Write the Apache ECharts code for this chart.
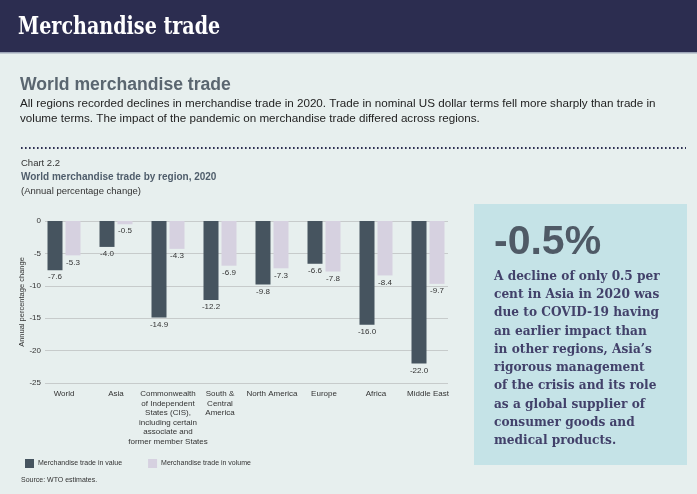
<!DOCTYPE html>
<html>
<head>
<meta charset="utf-8">
<script src="https://cdn.jsdelivr.net/npm/echarts@6/dist/echarts.min.js"></script>
<style>
html,body{margin:0;padding:0;background:#e7efee;}
#c{width:697px;height:494px;}
</style>
</head>
<body>
<div id="c"></div>
<script>
const categories = ['World', 'Asia', 'Commonwealth\nof Independent\nStates (CIS),\nincluding certain\nassociate and\nformer member States', 'South &\nCentral\nAmerica', 'North America', 'Europe', 'Africa', 'Middle East'];
const valueSeries = [-7.6, -4.0, -14.9, -12.2, -9.8, -6.6, -16.0, -22.0];
const volumeSeries = [-5.3, -0.5, -4.3, -6.9, -7.3, -7.8, -8.4, -9.7];
const seriesNames = ['Merchandise trade in value', 'Merchandise trade in volume'];
const yMin = -25, yMax = 0, yStep = 5;

const sideLines = ['A decline of only 0.5 per', 'cent in Asia in 2020 was', 'due to COVID-19 having', 'an earlier impact than', 'in other regions, Asia\u2019s', 'rigorous management', 'of the crisis and its role', 'as a global supplier of', 'consumer goods and', 'medical products.'];

const chart = echarts.init(document.getElementById('c'), null, {renderer: 'canvas'});
const sans = 'Liberation Sans, Arial, sans-serif';
const slab = 'DejaVu Serif Condensed, DejaVu Serif, serif';
const labelStyle = {show: true, position: 'bottom', distance: 3, fontSize: 8, color: '#333', fontFamily: sans, formatter: p => p.value.toFixed(1)};

const option = {
  backgroundColor: '#e7efee',
  animation: false,
  legend: {
    left: 20, top: 454, itemWidth: 9, itemHeight: 9, itemGap: 26,
    icon: 'rect',
    textStyle: {fontSize: 7, color: '#333', fontFamily: sans, padding: [0,0,0,-1]},
    data: seriesNames
  },
  grid: [
    {left: 38, width: 416, top: 221, height: 162},
    {left: 45, width: 403, top: 221, height: 162}
  ],
  xAxis: [
    {type: 'category', gridIndex: 0, data: categories, axisLine: {show: false}, axisTick: {show: false},
     axisLabel: {interval: 0, fontSize: 8, color: '#333', fontFamily: sans, lineHeight: 9.6, margin: 6}},
    {type: 'value', gridIndex: 1, show: false}
  ],
  yAxis: [
    {type: 'value', gridIndex: 0, min: yMin, max: yMax, interval: yStep, show: false},
    {type: 'value', gridIndex: 1, min: yMin, max: yMax, interval: yStep,
     axisLine: {show: false}, axisTick: {show: false},
     axisLabel: {fontSize: 8, color: '#333', fontFamily: sans, margin: 4},
     splitLine: {lineStyle: {color: '#c7cbcb', width: 1}},
     name: 'Annual percentage change', nameLocation: 'middle', nameGap: 19, nameRotate: 90, nameMoveOverlap: false,
     nameTextStyle: {fontSize: 7.5, color: '#333', fontFamily: sans}}
  ],
  series: [
    {name: seriesNames[0], type: 'bar', xAxisIndex: 0, yAxisIndex: 0, data: valueSeries, barWidth: 15, barGap: '20%',
     itemStyle: {color: '#46545f'}, label: labelStyle},
    {name: seriesNames[1], type: 'bar', xAxisIndex: 0, yAxisIndex: 0, data: volumeSeries, barWidth: 15, barGap: '20%',
     itemStyle: {color: '#d6d1e0'}, label: labelStyle}
  ],
  graphic: [
    {type: 'rect', left: 0, top: 0, shape: {width: 697, height: 52}, style: {fill: '#2c2d50'}, z: -1},
    {type: 'rect', left: 0, top: 52, shape: {width: 697, height: 1.5}, style: {fill: '#9ea6b8'}, z: -1},
    {type: 'text', x: 18, y: 15, scaleX: 0.85, style: {text: 'Merchandise trade', fill: '#ffffff', font: 'bold 25px ' + slab}},
    {type: 'text', left: 20, top: 76, style: {text: 'World merchandise trade', fill: '#5a6670', font: 'bold 17.6px ' + sans}},
    {type: 'text', left: 20, top: 96, style: {text: 'All regions recorded declines in merchandise trade in 2020. Trade in nominal US dollar terms fell more sharply than trade in\nvolume terms. The impact of the pandemic on merchandise trade differed across regions.', fill: '#222', font: '11.65px ' + sans, lineHeight: 15}},
    {type: 'line', shape: {x1: 21, y1: 148, x2: 686, y2: 148}, style: {stroke: '#2c2d50', lineWidth: 2, lineDash: [1.6, 2.4]}},
    {type: 'text', left: 21, top: 158, style: {text: 'Chart 2.2', fill: '#333', font: '9.5px ' + sans}},
    {type: 'text', left: 21, top: 172, style: {text: 'World merchandise trade by region, 2020', fill: '#4f5d6b', font: 'bold 10px ' + sans}},
    {type: 'text', left: 21, top: 186, style: {text: '(Annual percentage change)', fill: '#333', font: '9.5px ' + sans}},
    {type: 'rect', left: 474, top: 204, shape: {width: 213, height: 261}, style: {fill: '#c5e3e7'}, z: -1},
    {type: 'text', left: 494, top: 222, style: {text: '-0.5%', fill: '#4f5a66', font: 'bold 41px ' + sans}},
    {type: 'text', left: 494, top: 267, style: {text: sideLines.join('\n'), fill: '#42416a', font: 'bold 13.5px ' + slab, lineHeight: 18.3}},
    {type: 'text', left: 21, top: 477, style: {text: 'Source: WTO estimates.', fill: '#333', font: '7px ' + sans}}
  ]
};
chart.setOption(option);
</script>
</body>
</html>
